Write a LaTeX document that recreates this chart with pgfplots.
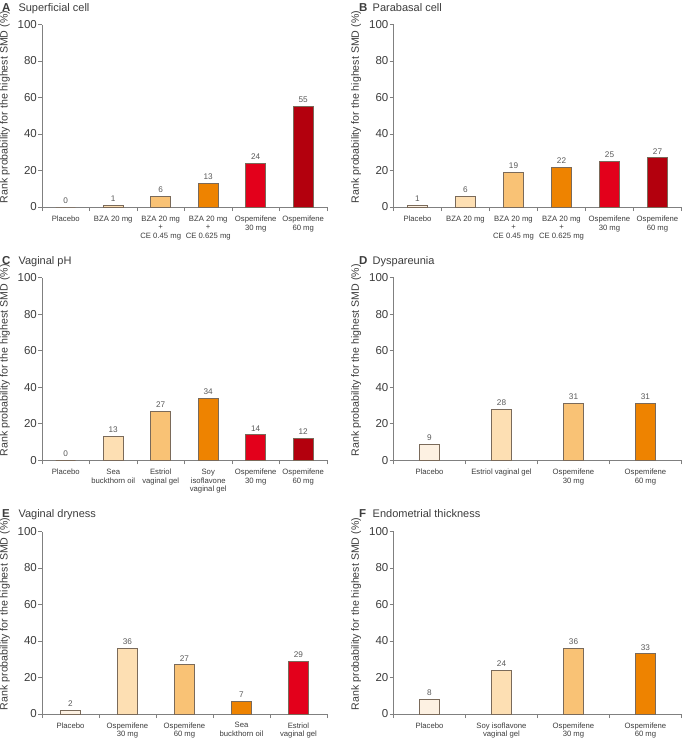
\documentclass[border=0pt]{standalone}
\usepackage{fontspec}
\setmainfont{Liberation Sans}
\usepackage{pgfplots}
\pgfplotsset{compat=1.18}

\definecolor{c1}{HTML}{FDF1E2}
\definecolor{c2}{HTML}{FDDFB3}
\definecolor{c3}{HTML}{F9C275}
\definecolor{c4}{HTML}{EE8300}
\definecolor{c5}{HTML}{E3001B}
\definecolor{c6}{HTML}{B3000D}
\definecolor{edge}{HTML}{7A6A5A}
\definecolor{axisgray}{HTML}{808080}
\definecolor{txt}{HTML}{3C3C3C}

\pgfplotsset{
  /pgf/number format/assume math mode=true,
  panel/.style={
    scale only axis, height=182.5pt,
    ymin=0, ymax=100, ytick={0,20,...,100},
    axis x line=bottom, axis y line=left,
    axis line style={-, axisgray, line width=0.8pt},
    tick align=outside, major tick length=4pt, minor tick length=4pt,
    tick style={axisgray, line width=0.8pt},
    major x tick style={draw=none},
    ticklabel style={txt},
    yticklabel style={font=\fontsize{11.5}{12}\selectfont, inner sep=1pt},
    xticklabel style={font=\fontsize{7.7}{8.5}\selectfont, align=center, yshift=-1.5pt},
    ylabel={Rank probability for the highest SMD (\%)},
    ylabel style={at={(axis description cs:-0.13,0.548)}, anchor=center,
      font=\fontsize{10.6}{12}\selectfont, txt},
    nodes near coords,
    every node near coord/.append style={font=\fontsize{8.2}{9}\selectfont, txt!85},
  },
  bar/.style={ybar, bar width=20pt, draw=edge, line width=0.7pt},
}

\begin{document}
\begin{tikzpicture}
\useasboundingbox (0,0) rectangle (683pt,-739pt);
\tikzset{ttl/.style={anchor=base west, inner sep=0pt, font=\fontsize{11}{12}\selectfont, txt},
         lett/.style={anchor=base west, inner sep=0pt, font=\fontsize{11.5}{12}\selectfont\bfseries, txt}}

% A
\node[lett] at (2pt,-11pt) {A};
\node[ttl] at (18.3pt,-11pt) {Superficial cell};
\begin{axis}[panel, at={(42pt,-207pt)}, anchor=south west, width=285pt,
  xmin=-0.5, xmax=5.5, xtick={0,...,5}, minor xtick={-0.5,0.5,...,5.5},
  xticklabels={Placebo, BZA 20 mg, {BZA 20 mg\\+\\CE 0.45 mg}, {BZA 20 mg\\+\\CE 0.625 mg}, {Ospemifene\\30 mg}, {Ospemifene\\60 mg}}]
\addplot[bar, fill=c1] coordinates {(0,0)};
\addplot[bar, fill=c2] coordinates {(1,1)};
\addplot[bar, fill=c3] coordinates {(2,6)};
\addplot[bar, fill=c4] coordinates {(3,13)};
\addplot[bar, fill=c5] coordinates {(4,24)};
\addplot[bar, fill=c6] coordinates {(5,55)};
\end{axis}

% B
\node[lett] at (359pt,-11pt) {B};
\node[ttl] at (372.5pt,-11pt) {Parabasal cell};
\begin{axis}[panel, at={(393.5pt,-207pt)}, anchor=south west, width=288pt,
  xmin=-0.5, xmax=5.5, xtick={0,...,5}, minor xtick={-0.5,0.5,...,5.5},
  xticklabels={Placebo, BZA 20 mg, {BZA 20 mg\\+\\CE 0.45 mg}, {BZA 20 mg\\+\\CE 0.625 mg}, {Ospemifene\\30 mg}, {Ospemifene\\60 mg}}]
\addplot[bar, fill=c1] coordinates {(0,1)};
\addplot[bar, fill=c2] coordinates {(1,6)};
\addplot[bar, fill=c3] coordinates {(2,19)};
\addplot[bar, fill=c4] coordinates {(3,22)};
\addplot[bar, fill=c5] coordinates {(4,25)};
\addplot[bar, fill=c6] coordinates {(5,27)};
\end{axis}

% C
\node[lett] at (2pt,-264pt) {C};
\node[ttl] at (18.3pt,-264pt) {Vaginal pH};
\begin{axis}[panel, at={(42pt,-460.3pt)}, anchor=south west, width=285pt,
  xmin=-0.5, xmax=5.5, xtick={0,...,5}, minor xtick={-0.5,0.5,...,5.5},
  xticklabels={Placebo, {Sea\\buckthorn oil}, {Estriol\\vaginal gel}, {Soy\\isoflavone\\vaginal gel}, {Ospemifene\\30 mg}, {Ospemifene\\60 mg}}]
\addplot[bar, fill=c1] coordinates {(0,0)};
\addplot[bar, fill=c2] coordinates {(1,13)};
\addplot[bar, fill=c3] coordinates {(2,27)};
\addplot[bar, fill=c4] coordinates {(3,34)};
\addplot[bar, fill=c5] coordinates {(4,14)};
\addplot[bar, fill=c6] coordinates {(5,12)};
\end{axis}

% D
\node[lett] at (359pt,-264pt) {D};
\node[ttl] at (372.5pt,-264pt) {Dyspareunia};
\begin{axis}[panel, at={(393.5pt,-460.3pt)}, anchor=south west, width=288pt,
  xmin=-0.5, xmax=3.5, xtick={0,...,3}, minor xtick={-0.5,0.5,...,3.5},
  xticklabels={Placebo, Estriol vaginal gel, {Ospemifene\\30 mg}, {Ospemifene\\60 mg}}]
\addplot[bar, fill=c1] coordinates {(0,9)};
\addplot[bar, fill=c2] coordinates {(1,28)};
\addplot[bar, fill=c3] coordinates {(2,31)};
\addplot[bar, fill=c4] coordinates {(3,31)};
\end{axis}

% E
\node[lett] at (2pt,-517.8pt) {E};
\node[ttl] at (18.3pt,-517.8pt) {Vaginal dryness};
\begin{axis}[panel, at={(42pt,-714pt)}, anchor=south west, width=285pt,
  xmin=-0.5, xmax=4.5, xtick={0,...,4}, minor xtick={-0.5,0.5,...,4.5},
  xticklabel style={yshift=0.5pt},
  xticklabels={Placebo, {Ospemifene\\30 mg}, {Ospemifene\\60 mg}, {Sea\\buckthorn oil}, {Estriol\\vaginal gel}}]
\addplot[bar, fill=c1] coordinates {(0,2)};
\addplot[bar, fill=c2] coordinates {(1,36)};
\addplot[bar, fill=c3] coordinates {(2,27)};
\addplot[bar, fill=c4] coordinates {(3,7)};
\addplot[bar, fill=c5] coordinates {(4,29)};
\end{axis}

% F
\node[lett] at (359pt,-517.8pt) {F};
\node[ttl] at (372.5pt,-517.8pt) {Endometrial thickness};
\begin{axis}[panel, at={(393.5pt,-714pt)}, anchor=south west, width=288pt,
  xmin=-0.5, xmax=3.5, xtick={0,...,3}, minor xtick={-0.5,0.5,...,3.5},
  xticklabel style={yshift=0.5pt},
  xticklabels={Placebo, {Soy isoflavone\\vaginal gel}, {Ospemifene\\30 mg}, {Ospemifene\\60 mg}}]
\addplot[bar, fill=c1] coordinates {(0,8)};
\addplot[bar, fill=c2] coordinates {(1,24)};
\addplot[bar, fill=c3] coordinates {(2,36)};
\addplot[bar, fill=c4] coordinates {(3,33)};
\end{axis}
\end{tikzpicture}
\end{document}
